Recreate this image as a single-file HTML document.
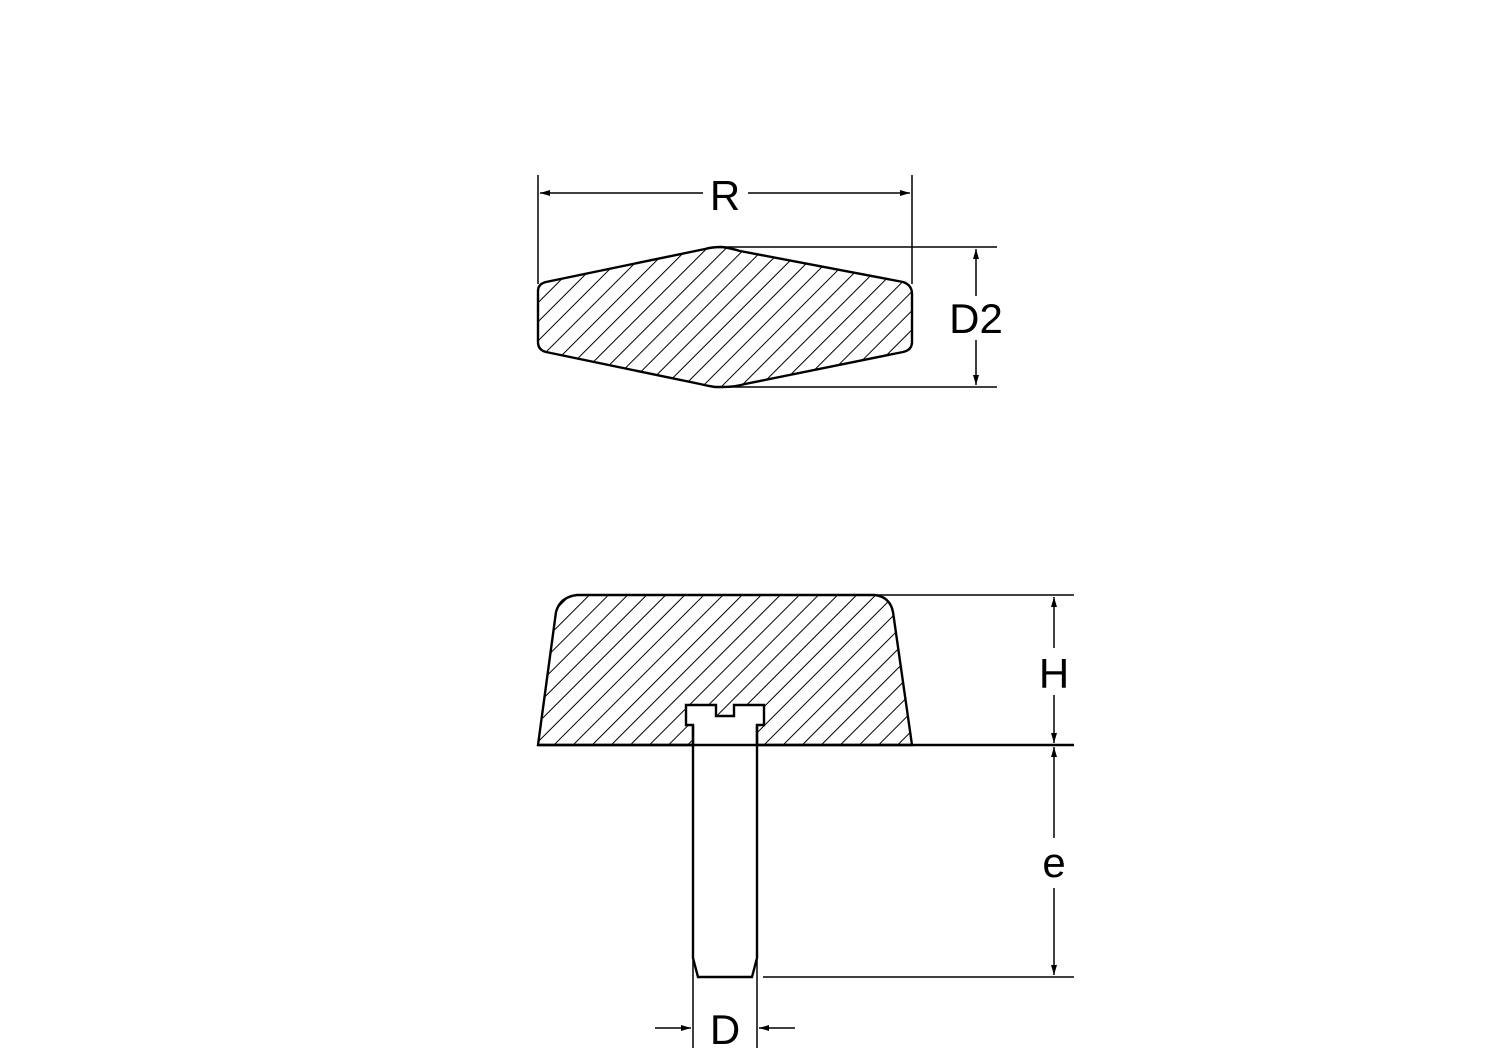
<!DOCTYPE html>
<html><head><style>html,body{margin:0;padding:0;background:#fff}svg{display:block}</style></head>
<body>
<svg width="1497" height="1058" viewBox="0 0 1497 1058" xmlns="http://www.w3.org/2000/svg">
<defs>
<pattern id="h" patternUnits="userSpaceOnUse" width="13.5" height="13.5" patternTransform="rotate(45)">
<line x1="0" y1="0" x2="0" y2="13.5" stroke="#000" stroke-width="2"/>
</pattern>
<marker id="a" viewBox="0 0 10 6" refX="10" refY="3" markerWidth="16" markerHeight="6" markerUnits="userSpaceOnUse" orient="auto-start-reverse">
<path d="M0,0 L10,3 L0,6 z" fill="#000"/>
</marker>
</defs>
<g fill="none" stroke="#000" stroke-width="1.5">
<path d="M538,291 Q538,284 546,282 L705,249 Q712,247 722,247 Q730,248 740,251 L903,282 Q912,285 912,294 L912,342 Q912,350 903,352 L745,384 Q735,387 722,387 L715,387 Q708,386 700,384 L546,352 Q538,350 538,342 Z" fill="url(#h)" stroke-width="2.4"/>
<line x1="538" y1="175" x2="538" y2="284"/>
<line x1="912" y1="175" x2="912" y2="284"/>
<line x1="540" y1="193" x2="703" y2="193" marker-start="url(#a)"/>
<line x1="748" y1="193" x2="910" y2="193" marker-end="url(#a)"/>
<line x1="722" y1="247" x2="997" y2="247"/>
<line x1="722" y1="387" x2="997" y2="387"/>
<line x1="976" y1="249" x2="976" y2="296" marker-start="url(#a)"/>
<line x1="976" y1="340" x2="976" y2="385" marker-end="url(#a)"/>
<path d="M538,745 L556,612 Q560,597 577,595 L875,595 Q890,597 893,612 L912,745 L757,745 L757,725 L764,725 L764,705 L734,705 L734,716 L716,716 L716,705 L686,705 L686,725 L693,725 L693,745 Z" fill="url(#h)" stroke-width="2.4"/>
<line x1="538" y1="745" x2="1074" y2="745" stroke-width="2.4"/>
<line x1="875" y1="595" x2="1074" y2="595"/>
<path d="M693,725 L693,958 L698,977 L752,977 L757,958 L757,725" stroke-width="2.4"/>
<line x1="763" y1="977" x2="1074" y2="977"/>
<line x1="1054" y1="597" x2="1054" y2="648" marker-start="url(#a)"/>
<line x1="1054" y1="695" x2="1054" y2="743" marker-end="url(#a)"/>
<line x1="1054" y1="747" x2="1054" y2="838" marker-start="url(#a)"/>
<line x1="1054" y1="888" x2="1054" y2="975" marker-end="url(#a)"/>
<line x1="693" y1="958" x2="693" y2="1048"/>
<line x1="757" y1="958" x2="757" y2="1048"/>
<line x1="655" y1="1028" x2="691" y2="1028" marker-end="url(#a)"/>
<line x1="795" y1="1028" x2="759" y2="1028" marker-end="url(#a)"/>
</g>
<g font-family="Liberation Sans, sans-serif" font-size="42" text-anchor="middle" fill="#000">
<text x="725" y="210">R</text>
<text x="976" y="333">D2</text>
<text x="1054" y="688">H</text>
<text x="1054" y="877">e</text>
<text x="725" y="1044">D</text>
</g>
</svg>
</body></html>
